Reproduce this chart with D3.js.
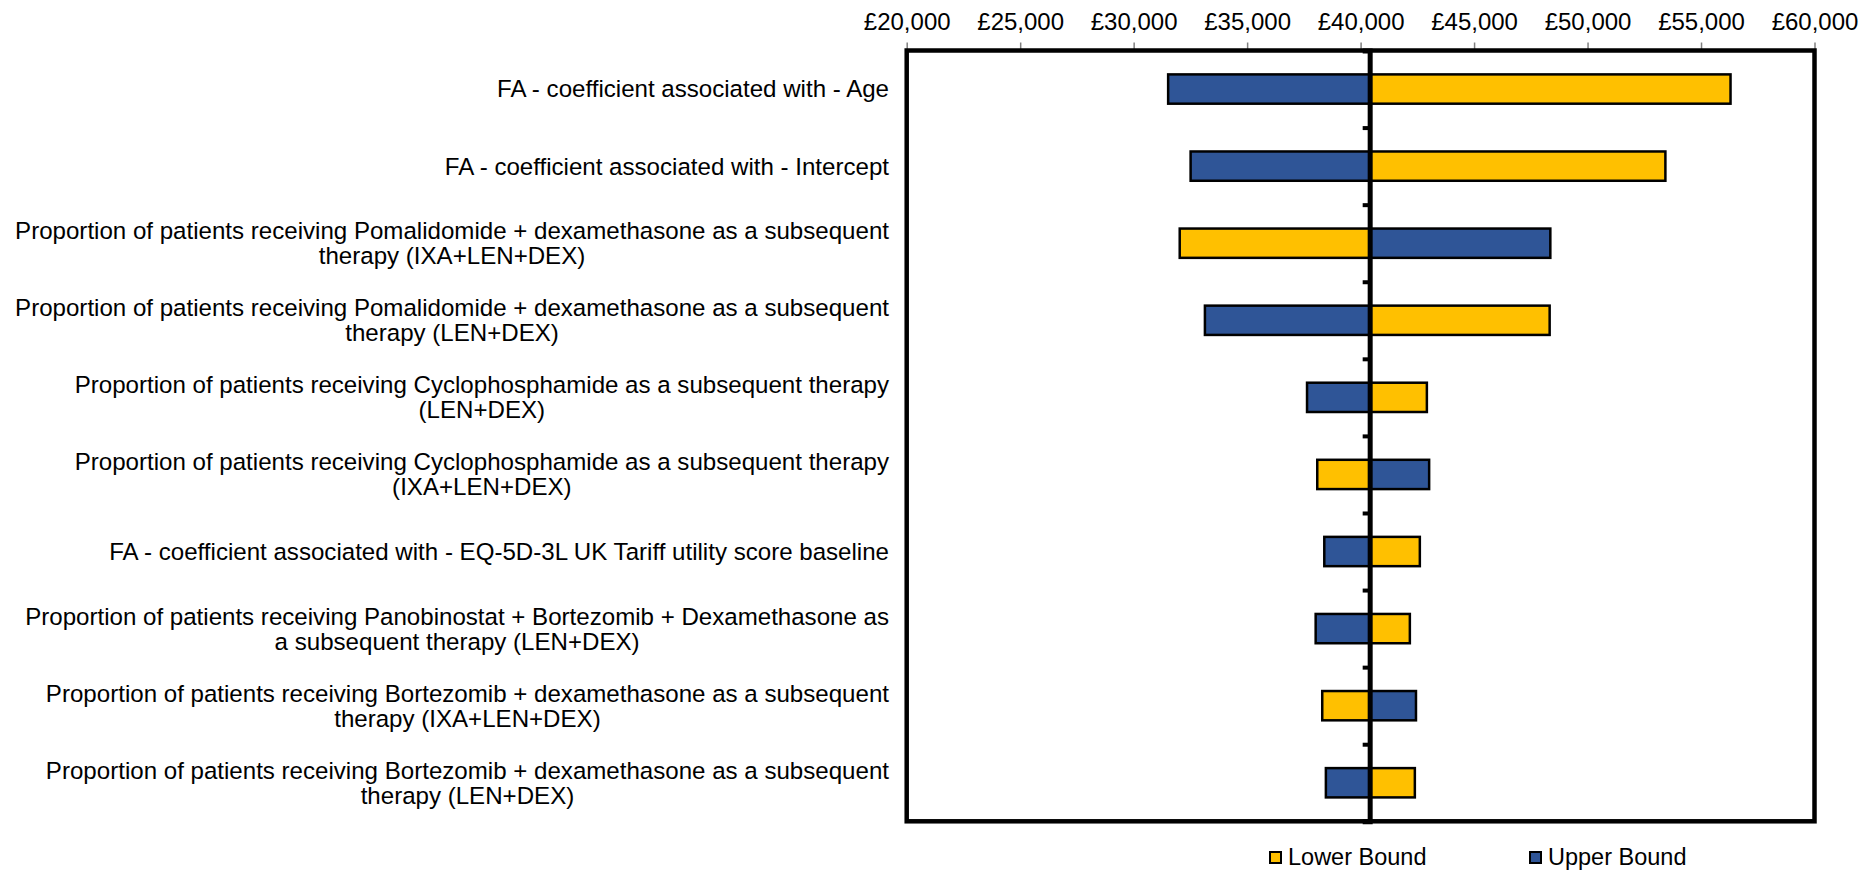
<!DOCTYPE html>
<html>
<head>
<meta charset="utf-8">
<script src="https://cdn.jsdelivr.net/npm/d3@7"></script>
<style>
  html, body { margin: 0; padding: 0; background: #fff; }
  svg { display: block; font-family: "Liberation Sans", Arial, sans-serif; }
</style>
</head>
<body>
<svg id="chart" width="1874" height="871"></svg>
<script>
// Tornado diagram: ICER (£/QALY) under lower / upper bound of each parameter
const categories = [
  ["FA - coefficient associated with - Age"],
  ["FA - coefficient associated with - Intercept"],
  ["Proportion of patients receiving Pomalidomide + dexamethasone as a subsequent", "therapy (IXA+LEN+DEX)"],
  ["Proportion of patients receiving Pomalidomide + dexamethasone as a subsequent", "therapy (LEN+DEX)"],
  ["Proportion of patients receiving Cyclophosphamide as a subsequent therapy", "(LEN+DEX)"],
  ["Proportion of patients receiving Cyclophosphamide as a subsequent therapy", "(IXA+LEN+DEX)"],
  ["FA - coefficient associated with - EQ-5D-3L UK Tariff utility score baseline"],
  ["Proportion of patients receiving Panobinostat + Bortezomib + Dexamethasone as", "a subsequent therapy (LEN+DEX)"],
  ["Proportion of patients receiving Bortezomib + dexamethasone as a subsequent", "therapy (IXA+LEN+DEX)"],
  ["Proportion of patients receiving Bortezomib + dexamethasone as a subsequent", "therapy (LEN+DEX)"]
];
const baseCase = 40400;
const lowerBound = [56300, 53430, 32030, 48330, 42920, 38090, 42610, 42170, 38310, 42390];
const upperBound = [31520, 32510, 48360, 33140, 37640, 43020, 38400, 38020, 42440, 38470];
const seriesNames = ["Lower Bound", "Upper Bound"];
const seriesColors = ["#FFC000", "#2F5597"];
const xTicks = [20000, 25000, 30000, 35000, 40000, 45000, 50000, 55000, 60000];

const W = 1874, H = 871;
const margin = { top: 50.5, right: 59.5, bottom: 49.7, left: 906.7 };
const innerW = W - margin.left - margin.right;
const innerH = H - margin.top - margin.bottom;

const svg = d3.select("#chart");
const g = svg.append("g").attr("transform", `translate(${margin.left},${margin.top})`);

const x = d3.scaleLinear().domain([20000, 60000]).range([0, innerW]);
const y = d3.scaleBand().domain(d3.range(categories.length)).range([0, innerH]).paddingInner(0.62).paddingOuter(0.31);
const yEdge = d3.scaleLinear().domain([0, categories.length]).range([0, innerH]);

// top value axis
const fmt = v => "£" + d3.format(",")(v);
const xAxis = g.append("g")
  .call(d3.axisTop(x).tickValues(xTicks).tickFormat(fmt).tickSize(8).tickPadding(13));
xAxis.select(".domain").remove();
xAxis.selectAll(".tick line").attr("stroke", "#808080").attr("stroke-width", 1.5);
xAxis.selectAll(".tick text").attr("fill", "#000").style("font-size", "24px")
  .style("font-family", "'Liberation Sans', Arial, sans-serif");

// bars
const rows = categories.map((c, i) => ({ i, lower: lowerBound[i], upper: upperBound[i] }));
const series = [
  { name: seriesNames[0], color: seriesColors[0], key: "lower" },
  { name: seriesNames[1], color: seriesColors[1], key: "upper" }
];
series.forEach(s => {
  g.append("g").selectAll("rect").data(rows).join("rect")
    .attr("x", d => Math.min(x(baseCase), x(d[s.key])))
    .attr("width", d => Math.abs(x(d[s.key]) - x(baseCase)))
    .attr("y", d => y(d.i))
    .attr("height", y.bandwidth())
    .attr("fill", s.color)
    .attr("stroke", "#000")
    .attr("stroke-width", 2.5);
});

// category axis crossing at the base case value
const yAxis = g.append("g")
  .attr("transform", `translate(${x(baseCase)},0)`)
  .call(d3.axisLeft(yEdge).tickValues(d3.range(1, categories.length)).tickFormat("").tickSize(7));
yAxis.select(".domain").attr("stroke", "#000").attr("stroke-width", 5);
yAxis.selectAll(".tick line").attr("stroke", "#000").attr("stroke-width", 4);

// plot frame
g.append("rect")
  .attr("x", 0).attr("y", 0).attr("width", innerW).attr("height", innerH)
  .attr("fill", "none").attr("stroke", "#000").attr("stroke-width", 4.5);

// category labels: block right-aligned, lines centred within the block
const lineH = 25;
const labels = g.append("g").attr("font-size", 24.1).attr("fill", "#000").attr("text-anchor", "middle");
categories.forEach((lines, i) => {
  const cy = y(i) + y.bandwidth() / 2;
  const t = labels.append("text").attr("y", cy);
  lines.forEach((ln, k) => {
    t.append("tspan")
      .attr("y", cy + (k - (lines.length - 1) / 2) * lineH)
      .attr("dy", "0.35em")
      .text(ln);
  });
  const tsp = t.selectAll("tspan").nodes();
  const maxW = d3.max(tsp, n => n.getComputedTextLength());
  const cx = -17.7 - maxW / 2;
  t.selectAll("tspan").attr("x", cx);
});

// legend
const legend = svg.append("g").attr("font-size", 23.5).attr("fill", "#000");
const legendX = [1270, 1530];
series.forEach((s, k) => {
  const lg = legend.append("g").attr("transform", `translate(${legendX[k]},852)`);
  lg.append("rect").attr("width", 11).attr("height", 11)
    .attr("fill", s.color).attr("stroke", "#000").attr("stroke-width", 2);
  lg.append("text").attr("x", 18).attr("y", 13).text(s.name);
});
</script>
</body>
</html>
